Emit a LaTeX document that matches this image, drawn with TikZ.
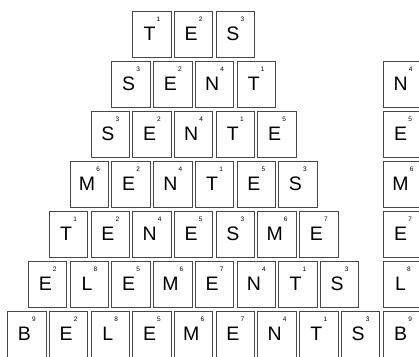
\documentclass[tikz,border=0pt]{standalone}
\usepackage{fontspec}
\setmainfont{Liberation Sans}
\newcommand\tileno[1]{\kern1.2pt\raisebox{19pt}{\fontsize{6.5}{7}\selectfont #1}}
\begin{document}
\begin{tikzpicture}[x=1pt,y=-1pt,
  tile/.style={draw=black!72, line width=0.9pt, minimum width=38.4pt, minimum height=46pt, inner sep=0pt, anchor=north west},
  letter/.style={anchor=base, inner sep=0pt, font=\fontsize{19.5}{20}\selectfont}]
\useasboundingbox (0,0) rectangle (419,356);
\clip (0,0) rectangle (419,356);
\foreach \row [count=\r from 0] in {{T/1,E/2,S/3},{S/3,E/2,N/4,T/1},{S/3,E/2,N/4,T/1,E/5},{M/6,E/2,N/4,T/1,E/5,S/3},{T/1,E/2,N/4,E/5,S/3,M/6,E/7},{E/2,L/8,E/5,M/6,E/7,N/4,T/1,S/3},{B/9,E/2,L/8,E/5,M/6,E/7,N/4,T/1,S/3}} {
  \foreach \L/\n [count=\k from 0] in \row {
    \node[tile] (t\r-\k) at ({132.3-\r*20.85+\k*41.7},{10.7+\r*50}) {};
    \node[letter] (l\r-\k) at ([yshift=-29.3pt]t\r-\k.north) {\L\tileno{\n}};
  }
}
\foreach \L/\n [count=\r from 1] in {N/4,E/5,M/6,E/7,L/8,B/9} {
  \node[tile] (c\r) at (383.3,{10.7+\r*50}) {};
  \node[letter] (cl\r) at ([yshift=-29.3pt]c\r.north) {\L\tileno{\n}};
}
\end{tikzpicture}
\end{document}
